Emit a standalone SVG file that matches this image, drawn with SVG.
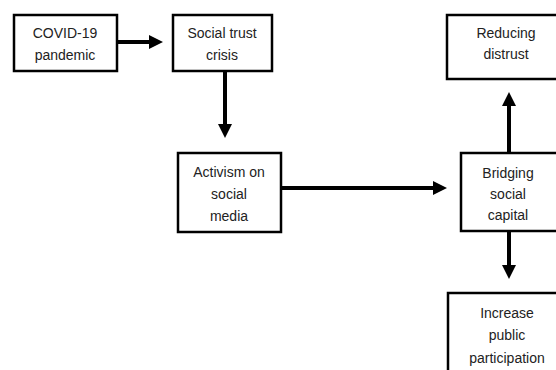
<svg xmlns="http://www.w3.org/2000/svg" width="556" height="370" viewBox="0 0 556 370">
<style>
.box{fill:#fff;stroke:#000;stroke-width:2.5}
.t{font-family:"Liberation Sans",Arial,sans-serif;font-size:14px;fill:#222;text-anchor:middle;dominant-baseline:central}
.c{stroke:#000;stroke-width:4;fill:none;marker-end:url(#ah)}
</style>
<defs>
<marker id="ah" viewBox="0 0 14 14" markerWidth="14" markerHeight="14" refX="0" refY="7" orient="auto" markerUnits="userSpaceOnUse">
<path d="M0,0 L14,7 L0,14 z" fill="#000"/>
</marker>
</defs>
<rect width="556" height="370" fill="#fff"/>
<g id="connectors">
<line class="c" x1="117" y1="42" x2="149" y2="42"/>
<line class="c" x1="225" y1="71" x2="225" y2="124"/>
<line class="c" x1="281" y1="188" x2="433" y2="188"/>
<line class="c" x1="509" y1="153" x2="509" y2="106"/>
<line class="c" x1="509" y1="231" x2="509" y2="265"/>
</g>
<g id="covid">
<rect class="box" x="14" y="15" width="103" height="56"/>
<text class="t" x="65" y="33">COVID-19</text>
<text class="t" x="65" y="55">pandemic</text>
</g>
<g id="trust">
<rect class="box" x="173" y="15" width="99" height="56"/>
<text class="t" x="222" y="33">Social trust</text>
<text class="t" x="222" y="55">crisis</text>
</g>
<g id="activism">
<rect class="box" x="178" y="153" width="103" height="79"/>
<text class="t" x="229" y="172">Activism on</text>
<text class="t" x="229" y="194">social</text>
<text class="t" x="229" y="216">media</text>
</g>
<g id="bridging">
<rect class="box" x="461" y="153" width="100" height="78"/>
<text class="t" x="508" y="173">Bridging</text>
<text class="t" x="508" y="194">social</text>
<text class="t" x="508" y="215">capital</text>
</g>
<g id="reducing">
<rect class="box" x="447" y="15" width="120" height="64"/>
<text class="t" x="506" y="33">Reducing</text>
<text class="t" x="506" y="54">distrust</text>
</g>
<g id="increase">
<rect class="box" x="448" y="293" width="120" height="90"/>
<text class="t" x="507" y="313">Increase</text>
<text class="t" x="507" y="335">public</text>
<text class="t" x="507" y="358">participation</text>
</g>
</svg>
